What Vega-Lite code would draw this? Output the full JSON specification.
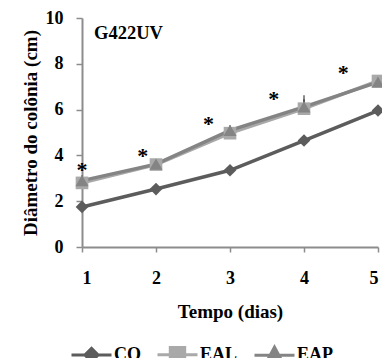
{
  "$schema": "https://vega.github.io/schema/vega-lite/v6.json",
  "width": 296,
  "height": 229,
  "autosize": "none",
  "padding": {"left": 82, "top": 18, "right": 4, "bottom": 111},
  "background": "white",
  "config": {
    "view": {"stroke": null},
    "font": "Liberation Serif",
    "axis": {
      "labelFont": "Liberation Serif",
      "labelFontWeight": "bold",
      "labelFontSize": 18,
      "labelColor": "black",
      "titleFont": "Liberation Serif",
      "titleFontWeight": "bold",
      "titleFontSize": 19,
      "titleColor": "black",
      "domainColor": "#8c8c8c",
      "domainWidth": 2,
      "tickColor": "#8c8c8c",
      "tickWidth": 1.5,
      "grid": false
    }
  },
  "title": {
    "text": "G422UV",
    "anchor": "start",
    "frame": "group",
    "orient": "top",
    "offset": 0,
    "baseline": "top",
    "dx": 12,
    "dy": 33,
    "font": "Liberation Serif",
    "fontSize": 18.5,
    "fontWeight": "bold",
    "color": "black"
  },
  "datasets": {
    "growth": [
      {"dia": 1, "serie": "CO", "diametro": 1.75, "lo": 1.7, "hi": 1.8},
      {"dia": 2, "serie": "CO", "diametro": 2.53, "lo": 2.48, "hi": 2.58},
      {"dia": 3, "serie": "CO", "diametro": 3.35, "lo": 3.3, "hi": 3.4},
      {"dia": 4, "serie": "CO", "diametro": 4.65, "lo": 4.6, "hi": 4.7},
      {"dia": 5, "serie": "CO", "diametro": 5.96, "lo": 5.91, "hi": 6.01},
      {"dia": 1, "serie": "EAL", "diametro": 2.8, "lo": 2.75, "hi": 2.85},
      {"dia": 2, "serie": "EAL", "diametro": 3.6, "lo": 3.55, "hi": 3.65},
      {"dia": 3, "serie": "EAL", "diametro": 4.97, "lo": 4.92, "hi": 5.02},
      {"dia": 4, "serie": "EAL", "diametro": 6.04, "lo": 5.99, "hi": 6.09},
      {"dia": 5, "serie": "EAL", "diametro": 7.25, "lo": 7.2, "hi": 7.3},
      {"dia": 1, "serie": "EAP", "diametro": 2.9, "lo": 2.85, "hi": 2.95},
      {"dia": 2, "serie": "EAP", "diametro": 3.62, "lo": 3.57, "hi": 3.67},
      {"dia": 3, "serie": "EAP", "diametro": 5.09, "lo": 5.04, "hi": 5.14},
      {"dia": 4, "serie": "EAP", "diametro": 6.12, "lo": 5.8, "hi": 6.45},
      {"dia": 5, "serie": "EAP", "diametro": 7.2, "lo": 7.15, "hi": 7.25}
    ],
    "stars": [
      {"dia": 1.0, "nivel": 3.6, "marca": "*"},
      {"dia": 1.82, "nivel": 4.2, "marca": "*"},
      {"dia": 2.71, "nivel": 5.6, "marca": "*"},
      {"dia": 3.59, "nivel": 6.7, "marca": "*"},
      {"dia": 4.53, "nivel": 7.8, "marca": "*"}
    ]
  },
  "data": {"name": "growth"},
  "encoding": {
    "x": {
      "field": "dia",
      "type": "quantitative",
      "scale": {"domain": [1, 5], "nice": false, "zero": false},
      "axis": {
        "title": "Tempo (dias)",
        "values": [1, 2, 3, 4, 5],
        "format": "d",
        "tickSize": 5,
        "labelPadding": 17,
        "titlePadding": 15
      }
    },
    "y": {
      "field": "diametro",
      "type": "quantitative",
      "scale": {"domain": [0, 10], "nice": false},
      "axis": {
        "title": "Diâmetro do colônia (cm)",
        "values": [0, 2, 4, 6, 8, 10],
        "tickSize": 6,
        "labelPadding": 13,
        "titlePadding": 5
      }
    }
  },
  "layer": [
    {
      "mark": {"type": "line", "strokeWidth": 3.5},
      "encoding": {
        "color": {
          "field": "serie",
          "type": "nominal",
          "scale": {"domain": ["CO", "EAL", "EAP"], "range": ["#5c5c5c", "#a9a9a9", "#848484"]},
          "legend": {
            "title": null,
            "orient": "none",
            "direction": "horizontal",
            "legendX": -12,
            "legendY": 315,
            "padding": 0,
            "symbolSize": 1600,
            "symbolType": "M-1,0H1",
            "symbolStrokeWidth": 3,
            "labelFont": "Liberation Serif",
            "labelFontWeight": "bold",
            "labelFontSize": 18,
            "labelColor": "black",
            "labelOffset": 1,
            "columnPadding": 10,
            "encode": {
              "symbols": {
                "update": {
                  "shape": {"signal": "datum.value === 'CO' ? 'M-1,0H1M0,-0.33L0.33,0L0,0.33L-0.33,0Z' : datum.value === 'EAL' ? 'M-1,0H1M-0.36,-0.36H0.36V0.36H-0.36Z' : 'M-1,0H1M0,-0.4L0.38,0.3L-0.38,0.3Z'"},
                  "fill": {"signal": "scale('color', datum.value)"},
                  "stroke": {"signal": "scale('color', datum.value)"},
                  "strokeWidth": {"value": 3},
                  "opacity": {"value": 1}
                }
              }
            }
          }
        }
      }
    },
    {
      "mark": {"type": "rule", "color": "#222222", "strokeWidth": 1},
      "encoding": {
        "y": {"field": "lo", "type": "quantitative"},
        "y2": {"field": "hi"}
      }
    },
    {
      "mark": {"type": "tick", "color": "#222222", "thickness": 1.5, "size": 8},
      "encoding": {
        "y": {"field": "hi", "type": "quantitative"}
      }
    },
    {
      "transform": [{"filter": "datum.serie === 'CO'"}],
      "mark": {"type": "point", "filled": true, "opacity": 1, "size": 160, "shape": "diamond", "color": "#5c5c5c"}
    },
    {
      "transform": [{"filter": "datum.serie === 'EAL'"}],
      "mark": {"type": "point", "filled": true, "opacity": 1, "size": 160, "shape": "square", "color": "#a9a9a9"}
    },
    {
      "transform": [{"filter": "datum.serie === 'EAP'"}],
      "mark": {"type": "point", "filled": true, "opacity": 1, "size": 170, "shape": "triangle-up", "color": "#848484"}
    },
    {
      "data": {"name": "stars"},
      "mark": {"type": "text", "font": "Liberation Serif", "fontWeight": "bold", "fontSize": 22, "baseline": "middle", "dy": 5, "color": "black"},
      "encoding": {
        "x": {"field": "dia", "type": "quantitative"},
        "y": {"field": "nivel", "type": "quantitative"},
        "text": {"field": "marca", "type": "nominal"}
      }
    }
  ]
}
